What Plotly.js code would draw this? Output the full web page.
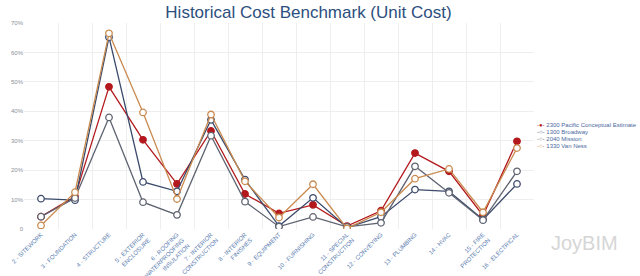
<!DOCTYPE html>
<html>
<head>
<meta charset="utf-8">
<script src="https://cdn.plot.ly/plotly-3.0.1.min.js"></script>
<style>html,body{margin:0;padding:0;background:#fff;}#chart{width:640px;height:276px;}</style>
</head>
<body>
<div id="chart"></div>
<script>
const categories = [
  "2 - SITEWORK", "3 - FOUNDATION", "4 - STRUCTURE", "5 - EXTERIOR<br>ENCLOSURE",
  "6 - ROOFING<br>WATERPROOFING<br>INSULATION", "7 - INTERIOR<br>CONSTRUCTION",
  "8 - INTERIOR<br>FINISHES", "9 - EQUIPMENT", "10 - FURNISHING",
  "11 - SPECIAL<br>CONSTRUCTION", "12 - CONVEYING", "13 - PLUMBING", "14 - HVAC",
  "15 - FIRE<br>PROTECTION", "16 - ELECTRICAL"
];
const seriesNames = ["2300 Pacific Conceptual Estimate", "1300 Broadway", "2040 Mission", "1330 Van Ness"];
const pacific   = [4.2, 11.0, 48.3, 30.3, 15.3, 33.3, 11.9, 5.3, 8.2, 1.0, 6.2, 25.8, 19.6, 4.6, 29.8];
const broadway  = [10.3, 9.8, 65.2, 16.0, 12.8, 37.1, 16.8, 1.0, 10.6, 0.5, 4.2, 13.4, 12.8, 3.2, 15.3];
const mission   = [4.2, 10.5, 37.9, 9.1, 4.8, 31.7, 9.3, 0.8, 4.1, 0.7, 2.1, 21.3, 12.3, 3.0, 19.6];
const vanNess   = [1.2, 12.5, 66.5, 39.6, 10.2, 38.9, 16.2, 3.9, 15.2, 0.2, 5.7, 17.1, 20.4, 5.7, 27.5];
const yTickVals = [0, 10, 20, 30, 40, 50, 60, 70];
const yTickText = ["0", "10%", "20%", "30%", "40%", "50%", "60%", "70%"];

const seriesValues = [pacific, broadway, mission, vanNess];
const colors = ["#b3191c", "#3b4a6b", "#5e6370", "#c98a4f"];
const filled = [true, false, false, false];

const traces = seriesValues.map((vals, i) => ({
  type: "scatter", mode: "lines+markers", name: seriesNames[i],
  x: categories, y: vals,
  line: {color: colors[i], width: 1.3},
  marker: {size: 6.5, color: filled[i] ? colors[i] : "#ffffff",
           line: {color: colors[i], width: 1.3}},
  showlegend: false
}));

const legendAnns = seriesNames.map((n, i) => ({
  xref: "paper", yref: "paper", x: 1.002, y: 0.505 - i * 0.034,
  xanchor: "left", yanchor: "middle", showarrow: false,
  text: '<span style="color:' + colors[i] + '">-' + (filled[i] ? '●' : '○') + '-</span> ' + n,
  font: {size: 6.0, color: "#4a68a0", family: "Liberation Sans, Arial, sans-serif"}
}));

const layout = {
  width: 640, height: 276,
  margin: {l: 24, r: 106, t: 23, b: 47},
  paper_bgcolor: "#ffffff", plot_bgcolor: "#ffffff",
  title: {text: "Historical Cost Benchmark (Unit Cost)", x: 0.482, xref: "container",
          y: 0.955, yref: "container", yanchor: "middle", xanchor: "center",
          font: {size: 17, color: "#2d4f7e", family: "Liberation Sans, Arial, sans-serif"}},
  xaxis: {type: "category", tickson: "boundaries", showgrid: true, gridcolor: "#eeeeee",
          gridwidth: 1, tickangle: -45, automargin: false, showline: false, zeroline: false,
          ticks: "", range: [-0.5, 14.5],
          tickfont: {size: 6.0, color: "#5a7db0", family: "Liberation Sans, Arial, sans-serif"}},
  yaxis: {range: [0, 70], tickvals: yTickVals, ticktext: yTickText, showgrid: true,
          gridcolor: "#eeeeee", zeroline: false, automargin: false, ticks: "",
          tickfont: {size: 6, color: "#8a8f99", family: "Liberation Sans, Arial, sans-serif"}},
  showlegend: false,
  annotations: legendAnns.concat([{
    xref: "paper", yref: "paper", x: 1.03, y: -0.07, xanchor: "left", yanchor: "middle",
    showarrow: false, text: "JoyBIM",
    font: {size: 20, color: "#d6d6d6", family: "Liberation Sans, Arial, sans-serif"}
  }])
};

Plotly.newPlot("chart", traces, layout, {displayModeBar: false, staticPlot: true});
</script>
</body>
</html>
